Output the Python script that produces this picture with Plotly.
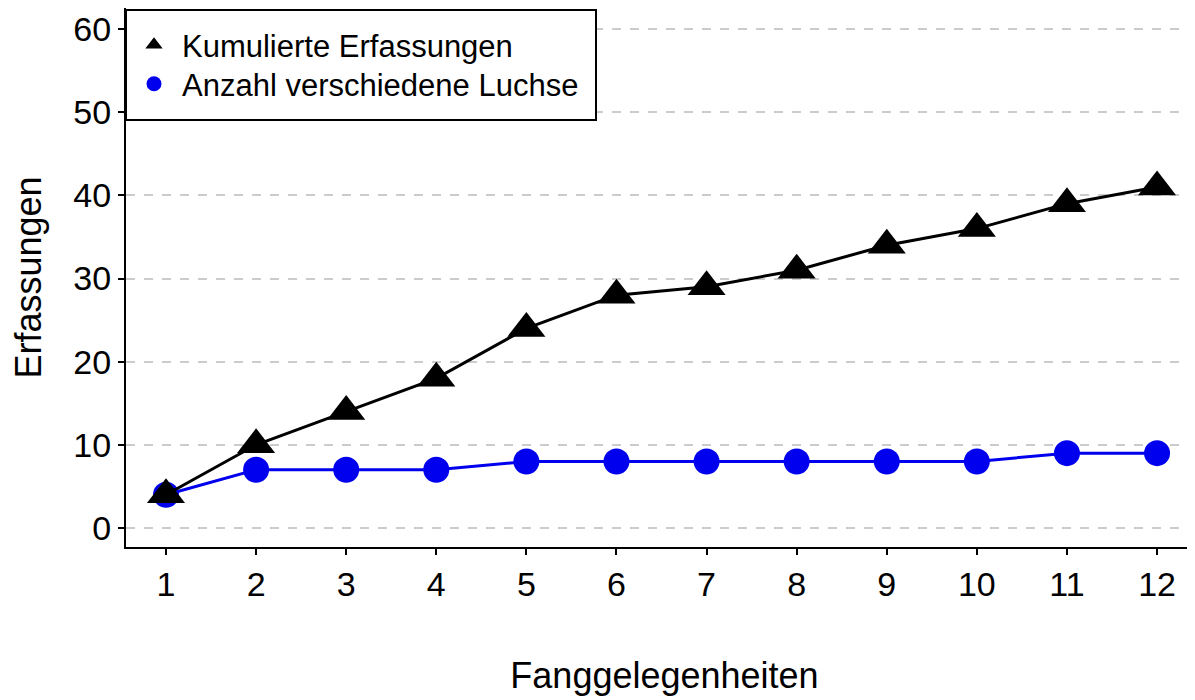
import plotly.graph_objects as go

occasions = [1, 2, 3, 4, 5, 6, 7, 8, 9, 10, 11, 12]
cumulative = [4, 10, 14, 18, 24, 28, 29, 31, 34, 36, 39, 41]
individuals = [4, 7, 7, 7, 8, 8, 8, 8, 8, 8, 9, 9]
name_cum = "Kumulierte Erfassungen"
name_ind = "Anzahl verschiedene Luchse"
yticks = [0, 10, 20, 30, 40, 50, 60]

FAM = "Liberation Sans, Arial"
BLUE = "#0000EE"
fig = go.Figure()
fig.add_trace(go.Scatter(x=occasions, y=individuals, mode="lines+markers",
                         line=dict(color=BLUE, width=3),
                         marker=dict(symbol="circle", size=26, color=BLUE),
                         showlegend=False))
fig.add_trace(go.Scatter(x=occasions, y=cumulative, mode="lines+markers",
                         line=dict(color="black", width=3),
                         marker=dict(symbol="triangle-up", size=33, color="black"),
                         showlegend=False))
fig.add_trace(go.Scatter(x=[None], y=[None], mode="markers", name=name_cum,
                         legend="legend",
                         marker=dict(symbol="triangle-up", size=15, color="black")))
fig.add_trace(go.Scatter(x=[None], y=[None], mode="markers", name=name_ind,
                         legend="legend2",
                         marker=dict(symbol="circle", size=15, color=BLUE)))

# legend frame (white box covering the grid, as in the reference); plot width 1077 px
fig.add_shape(type="rect", xref="paper", yref="paper",
              x0=0.0, x1=0.4364, y0=0.7922, y1=0.9963,
              fillcolor="white", line=dict(color="black", width=2), layer="above")

leg_common = dict(xanchor="left", yanchor="top", borderwidth=0,
                  bgcolor="rgba(0,0,0,0)", itemwidth=46,
                  font=dict(family=FAM, size=31, color="black"),
                  itemsizing="trace")

fig.update_layout(
    width=1195, height=700,
    margin=dict(l=118, r=0, t=0, b=161, autoexpand=False),
    plot_bgcolor="white", paper_bgcolor="white",
    font=dict(family=FAM, size=30, color="black"),
    legend=dict(x=0.0, y=0.9814, **leg_common),
    legend2=dict(x=0.0, y=0.909, **leg_common),
    xaxis=dict(range=[0.556, 12.51], tickmode="array", tickvals=occasions,
               tickfont=dict(family=FAM, size=34, color="black"),
               showline=True, linecolor="black", linewidth=2,
               ticks="outside", ticklen=6, tickwidth=1.5, tickcolor="black",
               showgrid=False, zeroline=False, automargin=False,
               title=dict(text="Fanggelegenheiten",
                          font=dict(family=FAM, size=36, color="black"), standoff=61)),
    yaxis=dict(range=[-2.284, 62.525], tickmode="array", tickvals=yticks,
               tickfont=dict(family=FAM, size=34, color="black"),
               showline=True, linecolor="black", linewidth=2,
               ticks="outside", ticklen=6, tickwidth=1.5, tickcolor="black",
               showgrid=True, gridcolor="#CCCCCC", griddash="dash", gridwidth=1.5,
               zeroline=False, automargin=False,
               title=dict(text="Erfassungen",
                          font=dict(family=FAM, size=36, color="black"), standoff=27)),
)
fig.write_html("out.html")
